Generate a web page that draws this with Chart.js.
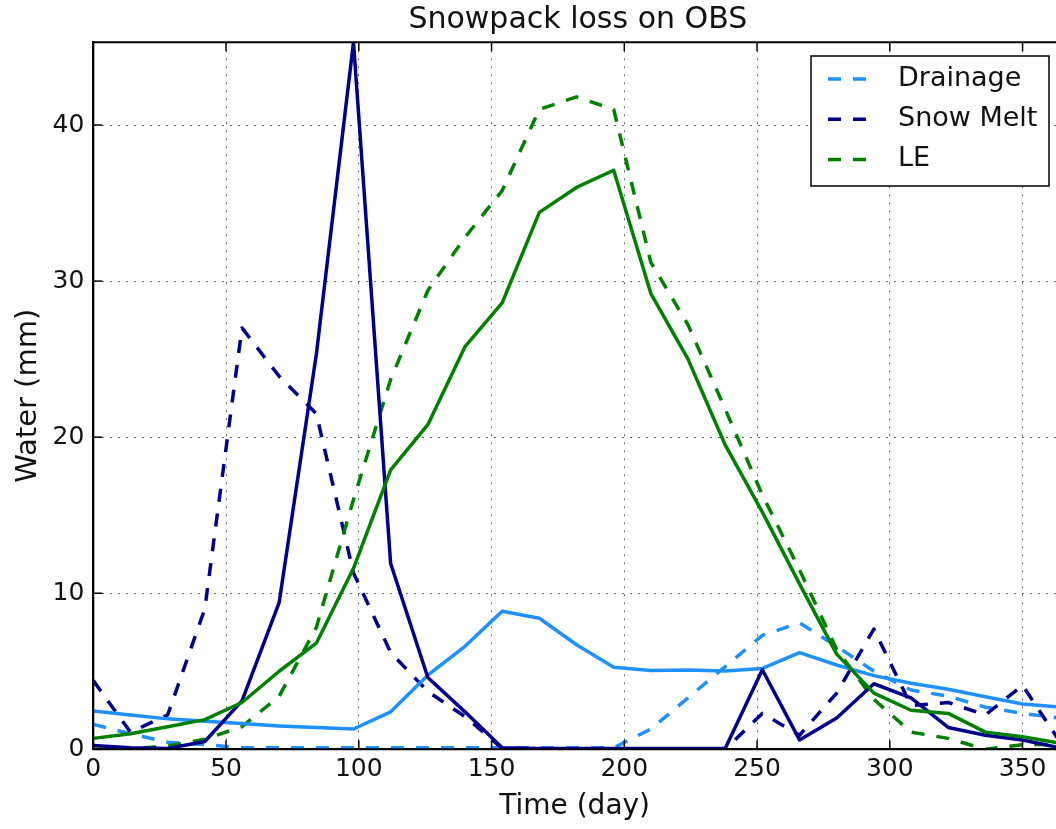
<!DOCTYPE html>
<html>
<head>
<meta charset="utf-8">
<script src="https://cdn.jsdelivr.net/npm/chart.js@4.4.1/dist/chart.umd.min.js"></script>
<style>
html,body{margin:0;padding:0;background:#fff;overflow:hidden}
canvas{display:block}
</style>
</head>
<body>
<canvas id="c" width="1056" height="829"></canvas>
<script>
// ---- data ----
const days = [0,14,28,42,56,70,84,98,112,126,140,154,168,182,196,210,224,238,252,266,280,294,308,322,336,350,364];

const drainageObs  = [1.6,1.0,0.45,0.3,0.1,0.1,0.1,0.1,0.1,0.1,0.1,0.1,0.1,0.1,0.1,1.3,3.3,5.3,7.3,8.1,6.6,5.0,3.8,3.4,2.7,2.3,2.0];
const snowMeltObs  = [4.4,1.1,2.2,9.0,27.0,23.9,21.5,11.3,6.2,3.7,2.1,0.05,0,0,0,0,0,0,2.3,0.9,3.6,7.7,2.8,3.0,2.2,4.1,0.5];
const leObs        = [0,0.05,0.2,0.64,1.45,3.4,7.8,16.0,23.7,29.4,32.8,35.8,41.0,41.8,41.0,31.2,27.2,21.8,16.3,11.5,6.4,3.2,1.1,0.7,0.0,0.3,0.3];

const drainageModel = [2.45,2.2,1.95,1.8,1.65,1.5,1.4,1.3,2.4,4.75,6.6,8.85,8.4,6.7,5.25,5.05,5.08,5.02,5.18,6.2,5.4,4.72,4.23,3.85,3.37,2.9,2.7];
const snowMeltModel = [0.25,0.1,0.05,0.5,3.1,9.4,25.3,45.3,11.9,4.6,2.4,0.1,0.05,0.05,0.05,0.05,0.05,0.05,5.1,0.6,2.0,4.2,3.3,1.4,0.9,0.6,0.1];
const leModel       = [0.7,1.0,1.45,1.9,3.0,5.0,6.8,11.6,17.9,20.8,25.8,28.6,34.4,36.0,37.1,29.2,25.0,19.5,15.2,10.6,6.1,3.6,2.5,2.3,1.1,0.8,0.4];

const seriesLabels = ['Drainage','Snow Melt','LE'];
const titleText = 'Snowpack loss on OBS';
const xTitle = 'Time (day)';
const yTitle = 'Water (mm)';
const xMin = 0, xMax = 362.6, xStep = 50;
const yMin = 0, yMax = 45.3, yStep = 10;

// ---- styles ----
const C_DRAIN = '#1e90ff', C_SNOW = '#00008b', C_LE = '#008000';
const DASH = [13,12];
const FONT = 'DejaVu Sans';
const LW = 3.5;

function pts(vals){ return days.map((d,i)=>({x:d, y:vals[i]})); }
function ds(label, vals, color, dashed, order){
  return {label, data: pts(vals), borderColor: color, backgroundColor: color,
    borderWidth: LW, borderDash: dashed ? DASH : [], borderCapStyle: 'butt',
    borderJoinStyle: 'round', pointRadius: 0, pointHoverRadius: 0, tension: 0,
    fill: false, clip: 0, order, showInLegend: dashed};
}

const framePlugin = {
  id: 'frameLegend',
  afterLayout(chart){
    const t = chart.titleBlock, x = chart.scales.x;
    if (t && x){
      t.left = chart.chartArea.left;
      t.right = x.getPixelForValue(365);
      t.width = t.right - t.left;
    }
  },
  afterDatasetsDraw(chart){
    const {ctx, chartArea:a, scales:{x, y}} = chart;
    const line = (x1,y1,x2,y2)=>{ctx.beginPath();ctx.moveTo(x1,y1);ctx.lineTo(x2,y2);ctx.stroke();};
    ctx.save();
    ctx.setLineDash([]);
    ctx.strokeStyle = '#000';
    ctx.lineWidth = 1.5;
    x.ticks.forEach(t=>{const px = x.getPixelForValue(t.value); line(px,a.bottom,px,a.bottom-9); line(px,a.top,px,a.top+9);});
    y.ticks.forEach(t=>{const py = y.getPixelForValue(t.value); line(a.left,py,a.left+9,py);});
    ctx.lineWidth = 2;
    line(a.left,a.top,a.right,a.top);
    line(a.left,a.top,a.left,a.bottom);
    line(a.left,a.bottom,a.right,a.bottom);

    // legend box
    const items = chart.data.datasets.filter(d=>d.showInLegend);
    const bw = 238, bh = 130;
    const bx = a.right - 7 - bw, by = a.top + 13.7;
    ctx.fillStyle = '#fff';
    ctx.fillRect(bx,by,bw,bh);
    ctx.lineWidth = 1.5;
    ctx.strokeStyle = '#000';
    ctx.strokeRect(bx,by,bw,bh);
    ctx.font = '27px "' + FONT + '"';
    ctx.textBaseline = 'middle';
    ctx.textAlign = 'left';
    items.forEach((d,i)=>{
      const cy = by + 23 + i*40.2;
      ctx.strokeStyle = d.borderColor;
      ctx.lineWidth = LW;
      ctx.lineCap = 'butt';
      ctx.setLineDash(DASH);
      line(bx+17, cy, bx+56, cy);
      ctx.setLineDash([]);
      ctx.fillStyle = '#111';
      ctx.fillText(d.label, bx+87, cy);
    });
    ctx.restore();
  }
};

new Chart(document.getElementById('c'), {
  type: 'line',
  data: {
    datasets: [
      ds(seriesLabels[0], drainageObs, C_DRAIN, true, 6),
      ds(seriesLabels[1], snowMeltObs, C_SNOW, true, 5),
      ds(seriesLabels[2], leObs, C_LE, true, 4),
      ds('', drainageModel, C_DRAIN, false, 3),
      ds('', snowMeltModel, C_SNOW, false, 2),
      ds('', leModel, C_LE, false, 1)
    ]
  },
  options: {
    responsive: false,
    animation: false,
    devicePixelRatio: 1,
    layout: {padding: {left:0, right:0, top:0, bottom:0}},
    plugins: {
      legend: {display: false},
      tooltip: {enabled: false},
      title: {display: true, text: titleText, color: '#111',
        font: {family: FONT, size: 30, weight: 'normal'},
        padding: {top: 2.5, bottom: 3.8}}
    },
    scales: {
      x: {
        type: 'linear', min: xMin, max: xMax,
        afterFit(s){ s.height = 829 - 749.3; },
        ticks: {stepSize: xStep, includeBounds: false, color: '#111', padding: 5,
          font: {family: FONT, size: 25}, maxRotation: 0, autoSkip: false},
        grid: {color: 'rgba(0,0,0,0.6)', lineWidth: 1, drawTicks: false},
        border: {display: true, color: '#000', width: 2, dash: [2,6]},
        title: {display: true, text: xTitle, color: '#111',
          font: {family: FONT, size: 28}, padding: {top: 4, bottom: 5}}
      },
      y: {
        type: 'linear', min: yMin, max: yMax,
        afterFit(s){ s.width = 93.3; },
        ticks: {stepSize: yStep, includeBounds: false, color: '#111', padding: 9,
          font: {family: FONT, size: 25}},
        grid: {color: 'rgba(0,0,0,0.6)', lineWidth: 1, drawTicks: false},
        border: {display: true, color: '#000', width: 2, dash: [2,6]},
        title: {display: true, text: yTitle, color: '#111',
          font: {family: FONT, size: 29}, padding: {top: 10.6, bottom: 4}}
      }
    }
  },
  plugins: [framePlugin]
});
</script>
</body>
</html>
